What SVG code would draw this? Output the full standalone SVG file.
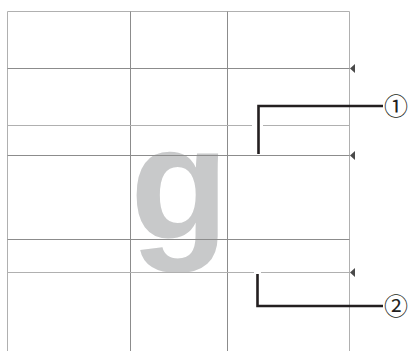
<svg xmlns="http://www.w3.org/2000/svg" width="412" height="351" viewBox="0 0 412 351">
<style>
.grid{stroke:#8c8c8c;stroke-width:1;fill:none}
.lgrid{stroke:#b0b0b0;stroke-width:1;fill:none}
.lead{stroke:#231f20;stroke-width:2.6;fill:none}
.tri{fill:#4a4a4a}
.num{font-family:"Noto Sans CJK JP","DejaVu Sans",sans-serif;font-size:24px;fill:#231f20}
</style>
<rect width="412" height="351" fill="#fff"/>
<g id="glyph">
<text x="130" y="239" font-family="Liberation Sans, Arial, sans-serif" font-weight="bold" font-size="162" fill="#c8c9ca">g</text>
</g>
<g id="grid">
<path class="lgrid" d="M7.5 351V11.5H349.5V351"/>
<path class="grid" d="M130.5 11.5V351M227.5 11.5V351"/>
<path class="grid" d="M7.5 68.5H349.5M7.5 155.5H349.5M7.5 239.5H349.5"/>
<path class="lgrid" d="M7.5 125.5H252M263 125.5H349.5M7.5 272.5H254M261 272.5H349.5"/>
</g>
<g id="markers">
<polygon class="tri" points="350,68.5 355,64 355,73"/>
<polygon class="tri" points="350,155.5 355,151 355,160"/>
<polygon class="tri" points="350,272.5 355,268 355,277"/>
</g>
<g id="connectors">
<path class="lead" d="M258.5 154V106H383"/>
<path class="lead" d="M257.5 274V306H383"/>
</g>
<g id="label1"><text class="num" x="396" y="114.5" text-anchor="middle">①</text></g>
<g id="label2"><text class="num" x="396" y="314.5" text-anchor="middle">②</text></g>
</svg>
